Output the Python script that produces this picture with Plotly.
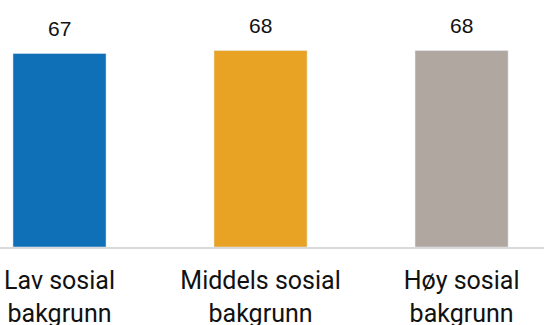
import plotly.graph_objects as go

# data
categories = ["Lav sosial<br>bakgrunn", "Middels sosial<br>bakgrunn", "Høy sosial<br>bakgrunn"]
values = [67, 68, 68]
colors = ["#0F70B7", "#E8A324", "#B0A7A1"]

fig = go.Figure()

fig.add_trace(go.Bar(
    x=categories,
    y=values,
    marker_color=colors,
    width=0.463,
    showlegend=False,
))

# value labels above bars
for c, v in zip(categories, values):
    fig.add_annotation(
        x=c, y=v, text=str(v), showarrow=False,
        yanchor="middle", yshift=25,
        font=dict(family="Liberation Sans, Arial", size=21, color="#111111"),
    )

fig.update_layout(
    width=544,
    height=325,
    margin=dict(l=0, r=0, t=0, b=78),
    plot_bgcolor="white",
    paper_bgcolor="white",
    xaxis=dict(
        range=[-0.296, 2.41],
        automargin=False,
        showline=True,
        linecolor="#D9D9D9",
        linewidth=2,
        ticks="outside",
        ticklen=10,
        tickcolor="rgba(0,0,0,0)",
        tickfont=dict(family="Roboto", size=25, color="#111111"),
        showgrid=False,
    ),
    yaxis=dict(
        range=[0, 85.5],
        visible=False,
        showgrid=False,
    ),
)

fig.write_html("out.html", config={"displayModeBar": False},
               post_script="document.body.style.margin='0';")
